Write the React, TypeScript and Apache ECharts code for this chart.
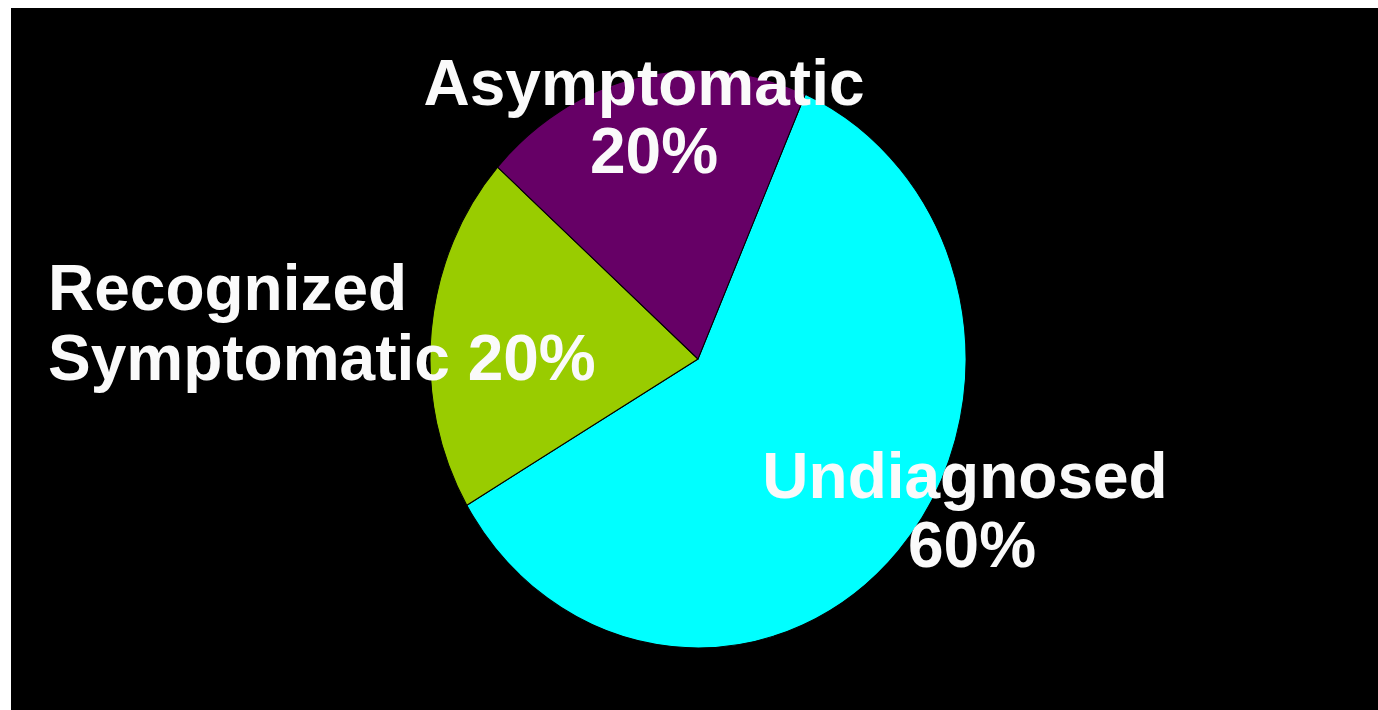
import React, { useEffect, useRef } from "react";
import * as echarts from "echarts";

// Share of cases by diagnosis status (percent)
const categories = ["Undiagnosed", "Recognized Symptomatic", "Asymptomatic"];
const shares = [60, 20, 20];
const sliceColors = ["#00ffff", "#99cc00", "#660066"];

// Label text lines per slice: how the name and value are broken into lines
// "split" puts the first word on line one and the rest with the value on line two
const labelBreaks = ["stack", "split", "stack"];

const W = 1367;
const H = 702;
const CX = 687;
const CY = 351;
const RX = 268;
const STRETCH = 1.078; // pie is drawn slightly taller than wide

// Placement of each label's two lines: [x, y, align]
const labelPlacement: [number, number, string][][] = [
  [
    [954, 468, "center"],
    [961, 537, "center"],
  ],
  [
    [37, 280, "left"],
    [37, 350, "left"],
  ],
  [
    [633, 75, "center"],
    [643, 143, "center"],
  ],
];

function labelLines(i: number): string[] {
  const name = categories[i];
  const pct = `${shares[i]}%`;
  if (labelBreaks[i] === "split") {
    const words = name.split(" ");
    return [words[0], `${words.slice(1).join(" ")} ${pct}`];
  }
  return [name, pct];
}

export default function App() {
  const pieRef = useRef<HTMLDivElement>(null);
  const textRef = useRef<HTMLDivElement>(null);

  useEffect(() => {
    if (!pieRef.current || !textRef.current) return;
    const pie = echarts.init(pieRef.current, null, { renderer: "svg" });
    pie.setOption({
      animation: false,
      backgroundColor: "transparent",
      series: [
        {
          type: "pie",
          center: [CX, CY],
          radius: RX,
          startAngle: 66.4,
          clockwise: true,
          silent: true,
          label: { show: false },
          labelLine: { show: false },
          emphasis: { disabled: true },
          itemStyle: { borderColor: "#000000", borderWidth: 1 },
          data: categories.map((name, i) => ({
            name,
            value: shares[i],
            itemStyle: { color: sliceColors[i] },
          })),
        },
      ],
    });

    const text = echarts.init(textRef.current, null, { renderer: "svg" });
    const elements: any[] = [];
    categories.forEach((_, i) => {
      const lines = labelLines(i);
      lines.forEach((line, j) => {
        const [x, y, align] = labelPlacement[i][j];
        elements.push({
          type: "text",
          x,
          y,
          silent: true,
          style: {
            text: line,
            fill: "#fafafa",
            font: 'bold 64px "Liberation Sans", Arial, sans-serif',
            align,
            verticalAlign: "middle",
          },
        });
      });
    });
    text.setOption({
      animation: false,
      backgroundColor: "transparent",
      graphic: { elements },
    });

    return () => {
      pie.dispose();
      text.dispose();
    };
  }, []);

  return (
    <div
      style={{
        position: "fixed",
        left: 11,
        top: 8,
        width: W,
        height: H,
        background: "#000000",
        overflow: "hidden",
      }}
    >
      <div
        ref={pieRef}
        style={{
          position: "absolute",
          left: 0,
          top: 0,
          width: W,
          height: H,
          transform: `scaleY(${STRETCH})`,
          transformOrigin: `${CX}px ${CY}px`,
        }}
      />
      <div
        ref={textRef}
        style={{ position: "absolute", left: 0, top: 0, width: W, height: H }}
      />
    </div>
  );
}
